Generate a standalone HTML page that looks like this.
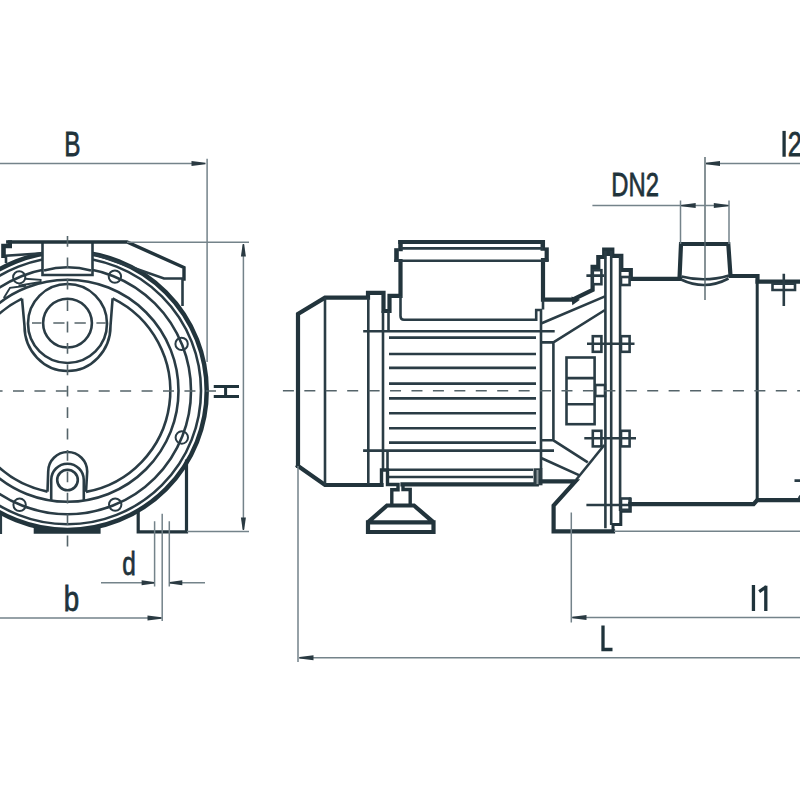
<!DOCTYPE html>
<html><head><meta charset="utf-8">
<style>
html,body{margin:0;padding:0;background:#fff;width:800px;height:800px;overflow:hidden}
svg{display:block}
.k{fill:none;stroke:#22343c;stroke-width:4.2;stroke-linejoin:miter;stroke-linecap:square}
.m{fill:none;stroke:#2a3c45;stroke-width:2.6}
.t{fill:none;stroke:#74838a;stroke-width:1.5}
.d{fill:none;stroke:#55646a;stroke-width:1.6}
.ar{fill:#2a3a42;stroke:none}
.tx{font-family:"Liberation Sans",sans-serif;fill:#1f333b;font-size:32px}
</style></head><body>
<svg width="800" height="800" viewBox="0 0 800 800">
<!-- ============ LEFT VIEW ============ -->
<g id="left">
  <!-- circles -->
  <circle class="m" cx="67.5" cy="390.75" r="111"/>
  <circle class="m" cx="67.5" cy="390.75" r="123.5"/>
  <circle class="m" cx="67.5" cy="390.75" r="133.5"/>
  <circle class="k" style="stroke-width:4.5" cx="67.5" cy="390.75" r="139.2"/>
  <!-- r1 with notches: from top-right cusp clockwise to bottom-right arch, bottom-left arch to top-left cusp -->
  <path class="m" d="M112.6 298.4 A102.8 102.8 0 0 1 86 491.9"/>
  <path class="m" d="M47.5 491.6 A102.8 102.8 0 0 1 22 298.6"/>
  <!-- top U -->
  <path class="m" d="M22 298.6 L24.5 326 A43 45 0 0 0 110.5 326 L112.6 298.4"/>
  <circle class="m" cx="67.5" cy="323.5" r="39.5"/>
  <circle class="m" cx="67.5" cy="323.1" r="24.4"/>
  <!-- bottom drain arch -->
  <path class="m" d="M47.5 491.6 L48.2 471.5 A19.5 19.5 0 0 1 87.2 471.5 L86 491.9"/>
  <path class="m" d="M51.2 501 L51.2 480 A16.3 16.3 0 0 1 83.8 480 L83.8 501"/>
  <circle class="m" cx="67.5" cy="480" r="10.3"/>
  <!-- bolt holes -->
  <g class="m" style="stroke-width:2">
    <circle cx="181.6" cy="343.9" r="6.2"/>
    <circle cx="181.8" cy="437.5" r="6.2"/>
    <circle cx="114.9" cy="276.6" r="6.2"/>
    <circle cx="115.2" cy="504.6" r="6.2"/>
    <circle cx="19.2" cy="277.3" r="6.1"/>
    <circle cx="19.6" cy="504.8" r="6.2"/>
  </g>
  <!-- bottom pad -->
  <path fill="#22343c" d="M33.7 527.3 Q67.5 529 100.6 527.3 L100.6 533.8 L33.7 533.8 Z"/>
  <!-- right foot -->
    <path class="k" style="stroke-width:3.2" d="M138.2 511 L138.2 531.8 L186.5 531.8 L186.5 461"/>
  <path class="m" d="M0.8 515 L0.8 534"/>
  <!-- top bracket & port rectangle -->
  <path fill="#fff" stroke="none" d="M42.5 242 L92.5 242 L92.5 275 L42.5 275 Z"/>
  <path class="m" d="M42.5 242 L42.5 275 L92.5 275 L92.5 242"/>
  <path class="m" d="M44 270.5 Q67.5 264 91 270.5"/>
  <path class="k" style="stroke-width:3.4" d="M7.8 242 L127 242 L184 267.5 L184 279"/>
  <path class="m" style="stroke-width:2.6" d="M92.5 253.5 L164 278.5 L184 278.5"/>
  <path class="m" d="M182.5 279 L182.5 306"/>
  <path class="m" style="stroke-width:2.6" d="M42.5 253.3 L6 255.8 L6 263"/>
  <path fill="#22343c" d="M7.8 240.3 L12 240.3 L12 248.2 L5.8 248.2 L5.8 258 L1.2 258 L1.2 243.8 L7.8 243.8 Z"/>
  <!-- small latch near top-left bolt -->
  <path class="m" style="stroke-width:1.9" d="M25 278.8 L40.6 279.8 L40.6 282 L18.5 285.8 M3.8 298 L10 287.8 L26 285.8"/>
  <!-- centre lines -->
  <path class="d" stroke-dasharray="11 10.43" d="M-8.43 391 L216 391"/>
  <path class="d" stroke-dasharray="10.8 10.6" d="M67.5 236 L67.5 546.5"/>
  <path class="d" d="M32 323 L41.4 323 M53.3 323 L64.5 323 M74.5 323 L85.8 323 M96.4 323 L105.8 323"/>
</g>

<!-- ============ RIGHT VIEW ============ -->
<g id="right">
  <!-- fan cover -->
  <path class="k" d="M298 466 L298 314 L325 297.6 L368 297.6 L368 292.8 L383.5 292.8 L383.5 311 L389.5 311 L389.5 295.8 L400.5 295.8 L400.5 261"/>
  <path class="k" d="M298 466 L325 485 L381.5 485"/>
  <path class="m" d="M325 297.6 L325 485"/>
  <path class="m" d="M368.3 297.6 L368.3 484"/>
  <path class="m" d="M383 311 L383 470"/>
  <path class="m" d="M388.5 311 L388.5 331 M387.5 450.6 L387.5 470"/>
  <!-- terminal box -->
  <path class="k" d="M400.4 242 L542.9 242 M543 260 L543 299.6 L572.6 299.6 L592.6 290 L592.6 266.8 L598.3 266.8 L598.3 257 L604.2 257 L604.2 249.6 L612.3 249.6 L612.3 255.8 L621.3 255.8 L621.3 270 L630.8 270 L630.8 278.8 L680 278.8"/>
  <path class="k" style="stroke-width:4.5" d="M400.5 242.2 L400.5 249 M542.8 242.2 L542.8 248.5"/>
  <rect x="394.2" y="248.2" width="4.6" height="13.8" fill="#22343c"/>
  <rect x="544.6" y="247.4" width="4.2" height="13.8" fill="#22343c"/>
  <path class="m" d="M400.5 248.4 L543 248.4 M394.2 260.8 L548.7 260.8"/>
  <path class="m" d="M400.5 296 L400.5 316 Q400.5 319.8 404 319.8 L536.2 319.8 L536.2 310 L541 310 L541 469"/>
  <path class="m" d="M543 299.6 L543 309.5"/>
  <!-- motor body lines -->
  <path class="m" d="M363.2 331.3 L554.7 331.3 M363.1 450.6 L554 450.6"/>
  <g class="m">
    <path d="M389 337.6 L536 337.6 M389 354 L536 354 M389 367.9 L536 367.9 M389 383.6 L536 383.6 M389 398.4 L536 398.4 M389 413.2 L536 413.2 M389 428.3 L536 428.3 M389 442.6 L536 442.6"/>
    <path d="M388 469.7 L533 469.7 M388.7 477 L533 477"/>
  </g>
  <path class="k" d="M402.5 484.3 L536.8 484.3"/>
  <path class="k" style="stroke-width:3.4" d="M381.5 485 L381.5 470 L387.5 470 L387.5 484.5 L398 484.5 L398 489.8 L391.8 489.8 L391.8 505"/>
  <path class="k" style="stroke-width:3.4" d="M403 485 L403 489.5 L410.2 489.5 L410.2 505"/>
  <path class="k" d="M387 505.5 L414 505.5 L433.5 522.3 L433.5 532 L368 532 L368 522.3 Z M368 522.3 L433.5 522.3"/>
  <rect x="533.5" y="468.3" width="9" height="17" fill="#2c3d44"/>
  <path d="M537.5 470 L537.5 484" stroke="#8e9a9e" stroke-width="2"/>
  <!-- bracket -->
  <path fill="#22343c" d="M571.5 296.5 L580 299.8 L572.3 305.3 Z"/>
  <path class="m" d="M541.7 323.3 L605 296.4 M553.4 342.4 L605 310 M540.3 342.4 L553.4 342.4 L553.4 440.3 M540.3 440.3 L553.4 440.3 L587.8 462.3 M541.7 458.2 L579.5 475.4"/>
  <path class="m" d="M604.3 445 L576 480"/>
  <path class="k" d="M541 481.4 L575.4 481.4 L553.6 505.6 L553.6 531.3 L613 531.3"/>
  <rect class="m" x="566.5" y="357.5" width="28.1" height="66.7"/>
  <path class="m" d="M566.5 378.1 L594.6 378.1 M566.5 404.3 L594.6 404.3"/>
  <rect class="m" x="595.3" y="385" width="9.7" height="11"/>
  <!-- flange -->
  <rect x="603.2" y="248.5" width="10" height="7.5" fill="#22343c"/>
  <path class="m" d="M605.4 251 L605.4 528.3 M611.2 251 L611.2 525 M620.1 256 L620.1 511"/>
  <path class="k" style="stroke-width:3" d="M613 531.3 L613 524.5 L620.8 524.5 L620.8 511.2 L630.3 511.2 L630.3 499"/>
  <!-- bolts/nuts -->
  <g class="m" fill="#fff">
    <rect x="592.8" y="270.2" width="8.6" height="14" fill="#fff"/>
    <rect x="621" y="277" width="8.6" height="8" fill="#fff"/>
    <rect x="592.8" y="336.2" width="8.6" height="15.6" fill="#fff"/>
    <rect x="621" y="336.2" width="8.6" height="15.6" fill="#fff"/>
    <rect x="592.8" y="430.8" width="8.6" height="15.6" fill="#fff"/>
    <rect x="621" y="430.8" width="8.6" height="15.6" fill="#fff"/>
    <rect x="621" y="498.5" width="8.6" height="11.3" fill="#fff"/>
  </g>
  <path class="m" d="M586.4 275.6 L604 275.6 M587 343.8 L634.5 343.8 M584.3 438.3 L636 438.3 M586.4 505 L630 505"/>
  <!-- pump casing -->
  <path class="k" d="M679.5 278.6 L681 244 L728.3 244 L730.5 276 L757.5 276 L757.5 281.6 L800 281.6"/>
  <path class="m" d="M681.5 276.5 Q705 282.6 729 275.5 M681 279.5 Q705 291 728.5 278.5"/>
  <path class="k" style="stroke-width:3" d="M757.2 281 L757.2 500"/>
  <path class="k" d="M630.3 504.2 L753.6 504.2 L757.2 500.2 L800 500.2"/>
  <path class="m" style="stroke-width:2" d="M798.6 498 L800.5 495.5"/>
  <path class="m" d="M772.5 283.8 L795 283.8 L795 290 L772.5 290 Z M783.8 273.8 L783.8 306 M794.5 480.6 L800 480.6"/>
</g>

<path d="M705 157 L705 300" stroke="#53646a" stroke-width="1.4" fill="none"/>
<path class="d" stroke-dasharray="11 10.43" d="M282.9 390.8 L800 390.8"/>
<!-- ============ DIMENSIONS ============ -->
<g id="dims">
  <path class="t" d="M0 163.5 L200 163.5 M207.1 158.7 L207.1 362"/>
  <path class="ar" d="M191.5 166.0 L205.5 164.2 L205.5 162.8 L191.5 161.0 Z"/>
  <path class="t" d="M127 242.2 L249 242.2 M187 531.6 L249 531.6 M243.4 245 L243.4 529"/>
  <path class="ar" d="M245.9 256.5 L244.1 244.0 L242.7 244.0 L240.9 256.5 Z"/> <path class="ar" d="M240.9 517.5 L242.7 530.0 L244.1 530.0 L245.9 517.5 Z"/>
  <path class="t" d="M154.6 521.3 L154.6 586.5 M169.3 521.3 L169.3 586.5 M162.2 513.8 L162.2 621 M101 582.8 L154 582.8 M170 582.8 L205 582.8 M0 618 L161 618"/>
  <path class="ar" d="M141.6 585.3 L154.1 583.5 L154.1 582.1 L141.6 580.3 Z"/> <path class="ar" d="M182.3 580.3 L169.8 582.1 L169.8 583.5 L182.3 585.3 Z"/> <path class="ar" d="M147.5 620.5 L161.5 618.7 L161.5 617.3 L147.5 615.5 Z"/>
  <path class="t" d="M298 466 L298 662 M299 657.8 L800 657.8 M571.3 512.5 L571.3 622.5 M614 531.2 L800 531.2 M572 617.5 L800 617.5"/>
  <path class="ar" d="M313.5 655.3 L299.5 657.1 L299.5 658.5 L313.5 660.3 Z"/> <path class="ar" d="M586.5 615.0 L572.5 616.8 L572.5 618.2 L586.5 620.0 Z"/>
  <path class="t" d="M680.5 200.5 L680.5 244 M729 200.5 L729 244 M592.4 205.6 L729 205.6 M706 163.5 L800 163.5"/>
  <path class="ar" d="M695.7 203.1 L681.2 204.9 L681.2 206.3 L695.7 208.1 Z"/> <path class="ar" d="M713.8 208.1 L728.3 206.3 L728.3 204.9 L713.8 203.1 Z"/> <path class="ar" d="M720.0 161.0 L706.0 162.8 L706.0 164.2 L720.0 166.0 Z"/>
  <g fill="#1f333b" font-family="Liberation Sans" font-size="72" stroke="#1f333b" stroke-width="1.6">
    <text transform="translate(64.21 156.41) scale(0.3375 0.4933)">B</text>
    <text transform="translate(611.25 196.03) scale(0.3309 0.4736)">DN2</text>
    <text transform="translate(122.32 575.03) scale(0.3382 0.4722)">d</text>
    <text transform="translate(63.76 611.12) scale(0.3853 0.4815)">b</text>
    <text transform="translate(787.69 156.27) scale(0.3529 0.4764)">2</text>
    </g>
  <g fill="none" stroke="#1f333b" stroke-width="3.3">
    <path d="M753.45 585 L753.45 610.9 M765.8 585.8 L765.8 610.9 M766.5 586.5 L759.2 591.6" />
    <path d="M784.1 130.9 L784.1 156.75" />
    <path d="M603 625.4 L603 649.5 L612.5 649.5" />
    <path d="M213.75 386.4 L239 386.4 M213.75 396.6 L239 396.6 M225.6 386.4 L225.6 396.6" stroke="#1f333b" stroke-width="3" fill="none"/>
  </g>
</g>
</svg>
</body></html>
